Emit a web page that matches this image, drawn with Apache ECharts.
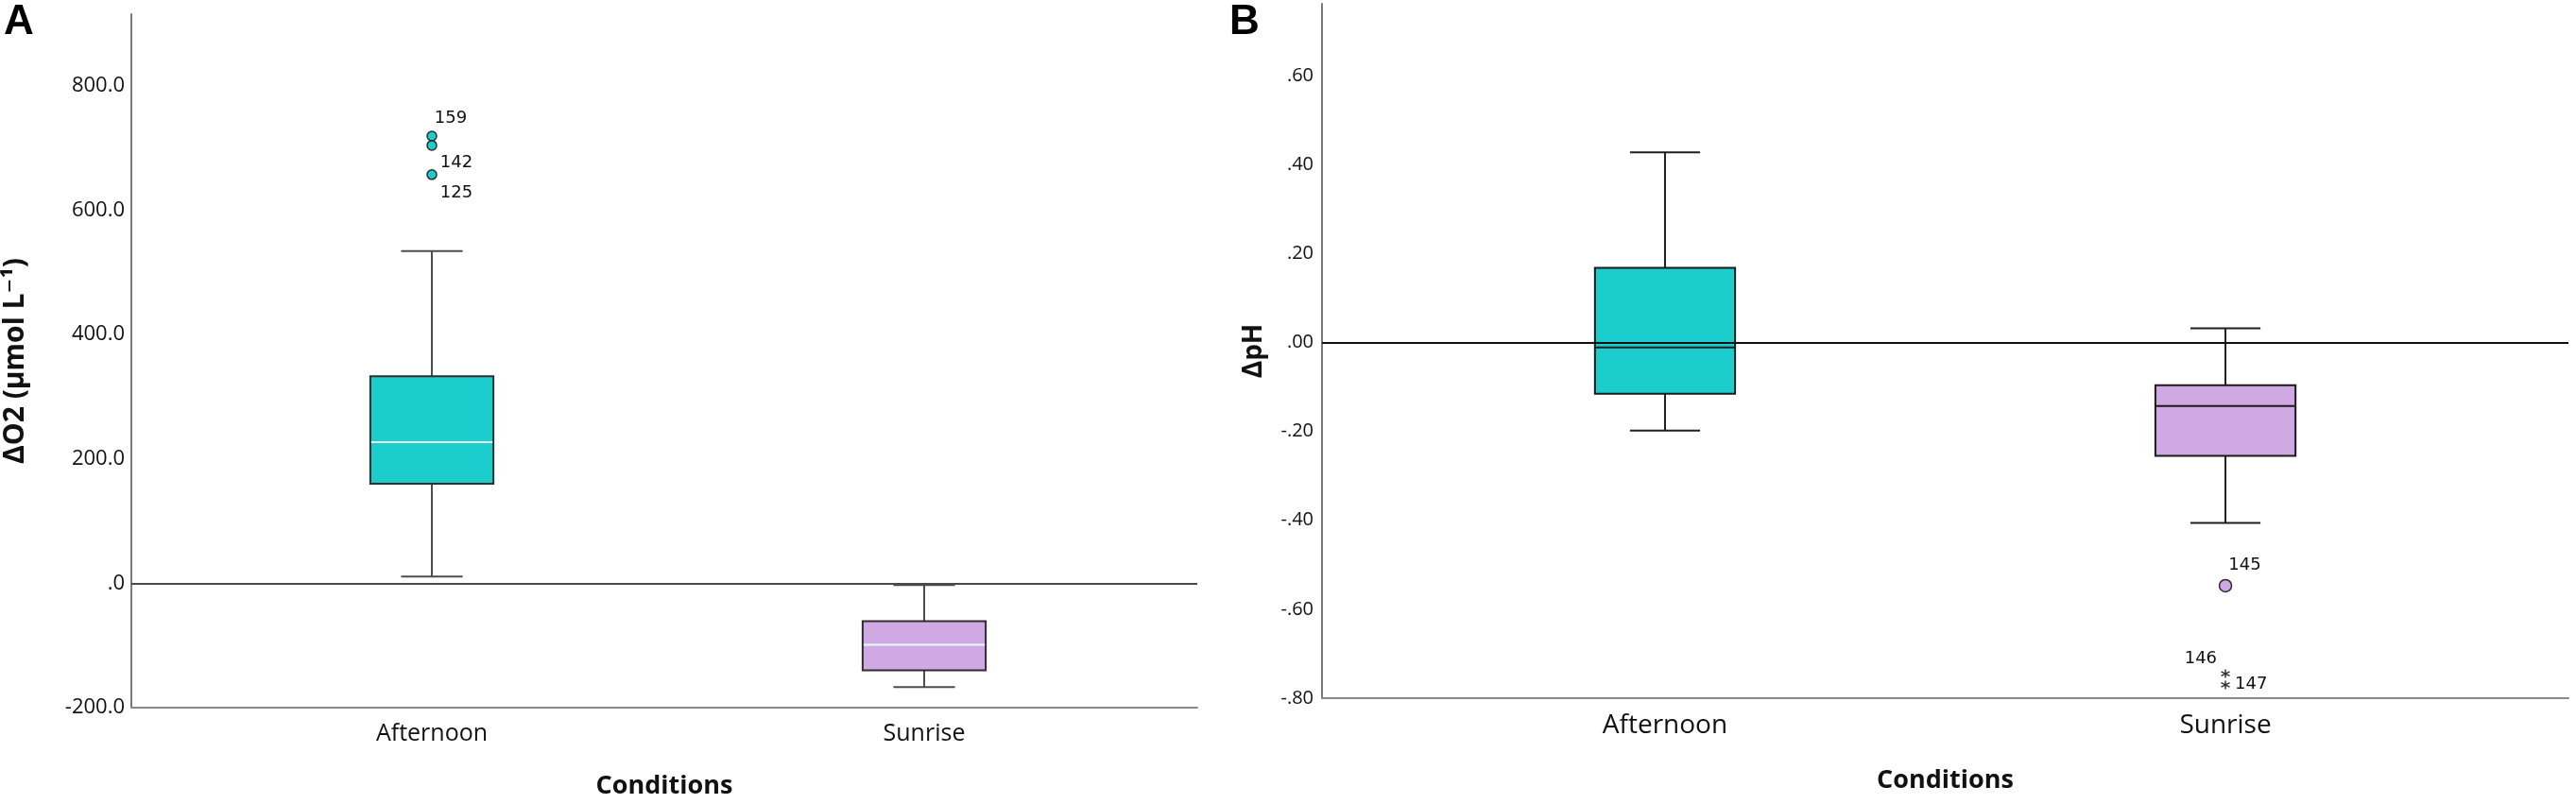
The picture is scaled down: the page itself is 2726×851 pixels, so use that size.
<!DOCTYPE html>
<html>
<head>
<meta charset="utf-8">
<title>ΔO2 and ΔpH by condition</title>
<script src="https://cdn.jsdelivr.net/npm/echarts@6/dist/echarts.min.js"></script>
<style>
  html, body { margin: 0; padding: 0; background: #fff; }
  #chart { width: 2726px; height: 851px; }
</style>
</head>
<body>
<div id="chart"></div>
<script>
// categories on the x axis (both panels)
const conditions = ['Afternoon', 'Sunrise'];

// panel A: ΔO2, box stats [min whisker, Q1, median, Q3, max whisker]
const o2Box = [
  [10.6, 160, 227, 333, 534],
  [-167, -140, -99, -61, -3]
];
const o2OutlierValues = [719, 704, 657];
const o2OutlierIds = ['159', '142', '125'];

// panel B: ΔpH
const phBox = [
  [-0.198, -0.115, -0.011, 0.168, 0.428],
  [-0.406, -0.255, -0.143, -0.096, 0.032]
];
const phOutlierValues = [-0.547];
const phOutlierIds = ['145'];
const phExtremeValues = [-0.745, -0.770];
const phExtremeIds = ['146', '147'];

// tick labels, SPSS style
const o2Ticks = [-200, 0, 200, 400, 600, 800];
const phTicks = [-0.8, -0.6, -0.4, -0.2, 0, 0.2, 0.4, 0.6];

const FONT = '"Open Sans", "DejaVu Sans", sans-serif';
const TEAL = '#1ccdce';
const PURPLE = '#d0a8e4';
const BOX_W = 0.25; // in x units (category centre = 0, 1)

const chart = echarts.init(document.getElementById('chart'), null, { renderer: 'canvas' });

function boxRenderer(st) {
  return function (params, api) {
    const x = api.value(0);
    const lo = api.coord([x, api.value(1)]);
    const q1 = api.coord([x, api.value(2)]);
    const med = api.coord([x, api.value(3)]);
    const q3 = api.coord([x, api.value(4)]);
    const hi = api.coord([x, api.value(5)]);
    const half = api.size([BOX_W, 0])[0] / 2;
    const cap = half / 2;
    const cx = lo[0];
    const seg = (x1, y1, x2, y2, color) => ({
      type: 'line',
      shape: { x1, y1, x2, y2 },
      style: { stroke: color, lineWidth: 2 }
    });
    return {
      type: 'group',
      children: [
        seg(cx, lo[1], cx, q1[1], st.whisker),
        seg(cx, q3[1], cx, hi[1], st.whisker),
        seg(cx - cap, lo[1], cx + cap, lo[1], st.whisker),
        seg(cx - cap, hi[1], cx + cap, hi[1], st.whisker),
        {
          type: 'rect',
          shape: { x: cx - half, y: q3[1], width: half * 2, height: q1[1] - q3[1] },
          style: { fill: api.visual('color'), stroke: st.border, lineWidth: 2 }
        },
        seg(cx - half + 1, med[1], cx + half - 1, med[1], st.median)
      ]
    };
  };
}

function boxData(stats) {
  const colors = [TEAL, PURPLE];
  return stats.map((s, i) => ({ value: [i].concat(s), itemStyle: { color: colors[i] } }));
}

function isTick(v, ticks) {
  return ticks.some(t => Math.abs(t - v) < 1e-6);
}

const labelStyle = { color: '#111', fontFamily: '"DejaVu Sans", sans-serif', fontSize: 18 };

// label placement for outlier ids
const o2LabelPos = [
  { position: 'right', distance: 0, offset: [-3, -19] },
  { position: 'right', distance: 0, offset: [3, 18] },
  { position: 'right', distance: 0, offset: [3, 19] }
];
const phOutLabelPos = [{ position: 'right', distance: 0, offset: [-4, -22] }];
const phExtLabelPos = [
  { position: 'left', distance: 0, offset: [-2, -16] },
  { position: 'right', distance: 0, offset: [3, -1] }
];

function pointData(x, values, ids, pos) {
  return values.map((v, i) => ({
    value: [x, v],
    label: Object.assign({ show: true, formatter: ids[i] }, labelStyle, pos[i])
  }));
}

const asterisk = 'path://M5,0L5,10M0.67,2.5L9.33,7.5M0.67,7.5L9.33,2.5';

const option = {
  animation: false,
  backgroundColor: '#fff',
  textStyle: { fontFamily: FONT },
  graphic: [
    { type: 'text', left: 4, top: 2, style: { text: 'A', font: 'bold 44px "Liberation Sans", Arial, sans-serif', fill: '#000' } },
    { type: 'text', left: 1301, top: 2, style: { text: 'B', font: 'bold 44px "Liberation Sans", Arial, sans-serif', fill: '#000' } }
  ],
  grid: [
    { left: 139, top: 15, width: 1128, height: 734 },
    { left: 1399, top: 4, width: 1319, height: 735 }
  ],
  xAxis: [
    {
      gridIndex: 0, type: 'value', min: -0.6104, max: 1.5547,
      name: 'Conditions', nameLocation: 'middle', nameGap: 70,
      nameTextStyle: { fontFamily: FONT, fontWeight: 'bold', fontSize: 27, color: '#111' },
      axisLine: { onZero: false, lineStyle: { color: '#8a8a8a', width: 2 } },
      axisTick: { show: false },
      splitLine: { show: false },
      axisLabel: {
        customValues: [0, 1], margin: 15, fontSize: 25, color: '#111', fontFamily: FONT,
        formatter: v => conditions[Math.round(v)]
      }
    },
    {
      gridIndex: 1, type: 'value', min: -0.612, max: 1.612,
      name: 'Conditions', nameLocation: 'middle', nameGap: 74,
      nameTextStyle: { fontFamily: FONT, fontWeight: 'bold', fontSize: 27, color: '#111' },
      axisLine: { onZero: false, lineStyle: { color: '#8a8a8a', width: 2 } },
      axisTick: { show: false },
      splitLine: { show: false },
      axisLabel: {
        customValues: [0, 1], margin: 15, fontSize: 28, color: '#111', fontFamily: FONT,
        formatter: v => conditions[Math.round(v)]
      }
    }
  ],
  yAxis: [
    {
      gridIndex: 0, type: 'value', min: -200, max: 915, interval: 200,
      name: 'ΔO2 (µmol L⁻¹)', nameLocation: 'middle', nameGap: 108, nameRotate: 90,
      nameTextStyle: { fontFamily: FONT, fontWeight: 'bold', fontSize: 30, color: '#111' },
      axisLine: { show: true, onZero: false, lineStyle: { color: '#7a7a7a', width: 2 } },
      axisTick: { show: false },
      splitLine: { show: false },
      axisLabel: {
        margin: 7, fontSize: 22, color: '#111', fontFamily: FONT,
        formatter: v => !isTick(v, o2Ticks) ? '' : (v === 0 ? '.0' : v.toFixed(1))
      }
    },
    {
      gridIndex: 1, type: 'value', min: -0.8, max: 0.762, interval: 0.2,
      name: 'ΔpH', nameLocation: 'middle', nameGap: 58, nameRotate: 90,
      nameTextStyle: { fontFamily: FONT, fontWeight: 'bold', fontSize: 28, color: '#111' },
      axisLine: { show: true, onZero: false, lineStyle: { color: '#7a7a7a', width: 2 } },
      axisTick: { show: false },
      splitLine: { show: false },
      axisLabel: {
        margin: 9, fontSize: 20, color: '#111', fontFamily: FONT,
        formatter: v => !isTick(v, phTicks) ? '' : v.toFixed(2).replace('0.', '.')
      }
    }
  ],
  series: [
    {
      type: 'custom', xAxisIndex: 0, yAxisIndex: 0,
      renderItem: boxRenderer({ whisker: '#4d4d4d', border: '#2e2e2e', median: '#e8fbfb' }),
      encode: { x: 0, y: [1, 2, 3, 4, 5] },
      data: boxData(o2Box),
      markLine: {
        silent: true, symbol: 'none', label: { show: false },
        lineStyle: { color: '#4a4a4a', width: 2, type: 'solid' },
        data: [{ yAxis: 0 }]
      },
      z: 2
    },
    {
      type: 'scatter', xAxisIndex: 0, yAxisIndex: 0,
      symbol: 'circle', symbolSize: 10,
      itemStyle: { color: TEAL, borderColor: '#2b2b2b', borderWidth: 1.5, opacity: 1 },
      data: pointData(0, o2OutlierValues, o2OutlierIds, o2LabelPos),
      z: 3
    },
    {
      type: 'custom', xAxisIndex: 1, yAxisIndex: 1,
      renderItem: boxRenderer({ whisker: '#1e1e1e', border: '#1a1a1a', median: '#1a1a1a' }),
      encode: { x: 0, y: [1, 2, 3, 4, 5] },
      data: boxData(phBox),
      markLine: {
        silent: true, symbol: 'none', label: { show: false },
        lineStyle: { color: '#111', width: 2, type: 'solid' },
        data: [{ yAxis: 0 }]
      },
      z: 2
    },
    {
      type: 'scatter', xAxisIndex: 1, yAxisIndex: 1,
      symbol: 'circle', symbolSize: 13,
      itemStyle: { color: PURPLE, borderColor: '#2b2b2b', borderWidth: 1.5, opacity: 1 },
      data: pointData(1, phOutlierValues, phOutlierIds, phOutLabelPos),
      z: 3
    },
    {
      type: 'scatter', xAxisIndex: 1, yAxisIndex: 1,
      symbol: asterisk, symbolSize: 9,
      itemStyle: { color: 'none', borderColor: '#333', borderWidth: 1.5, opacity: 1 },
      data: pointData(1, phExtremeValues, phExtremeIds, phExtLabelPos),
      z: 3
    }
  ]
};

chart.setOption(option);
</script>
</body>
</html>
